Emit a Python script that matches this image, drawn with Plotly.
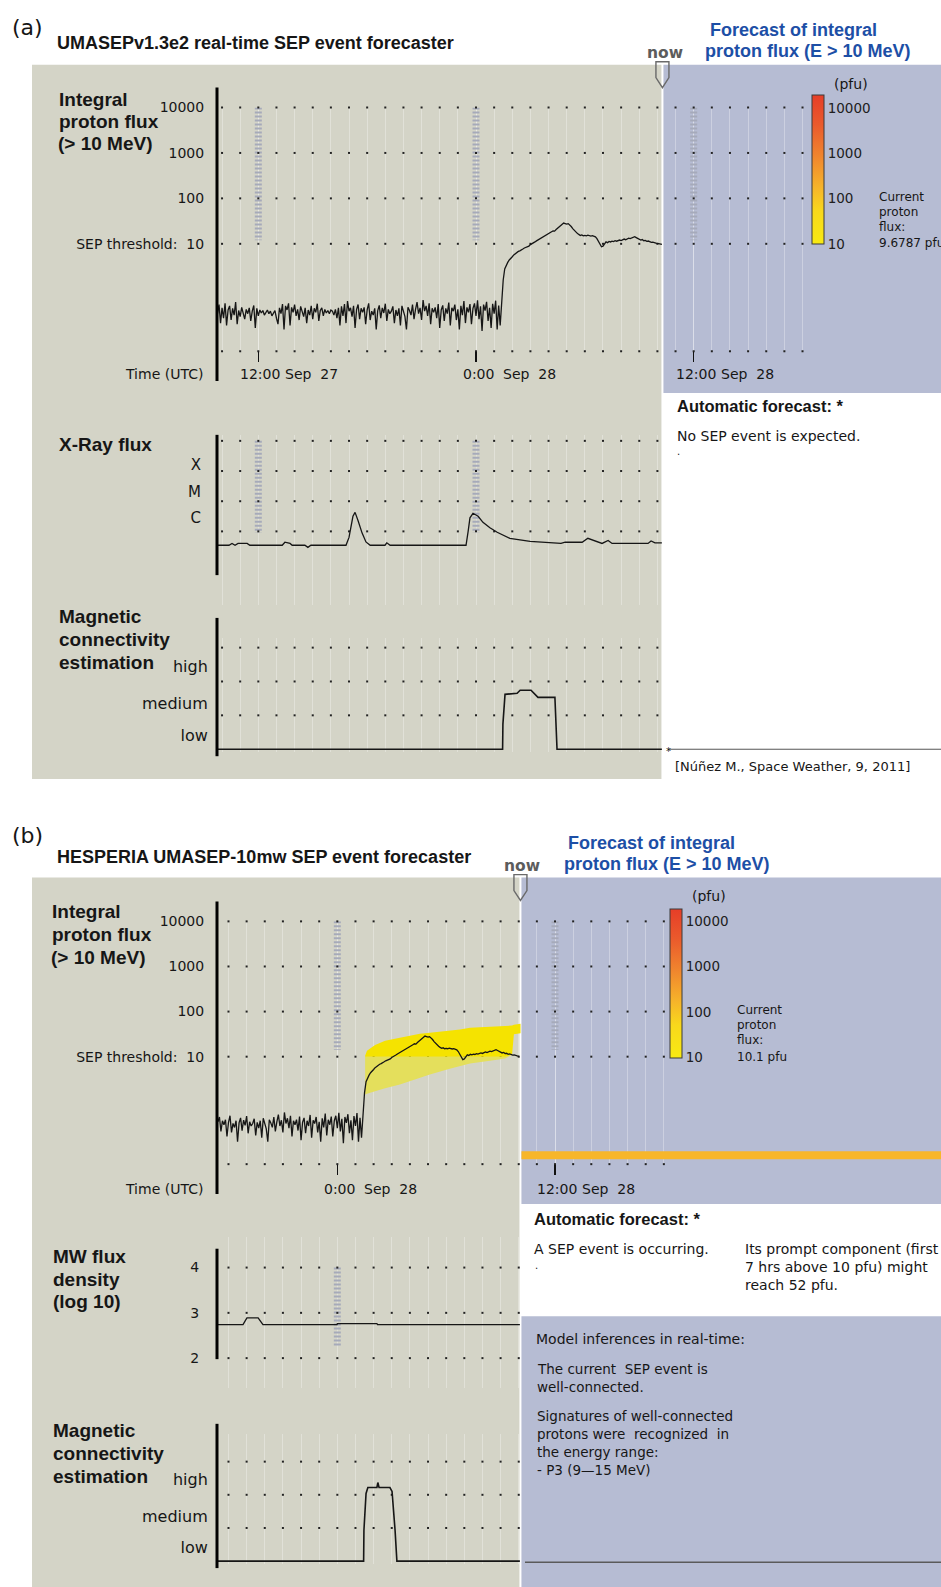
import numpy as np
import pandas as pd
import plotly.graph_objects as go

# ======================= DATA =======================
# GOES integral proton flux (>10 MeV), pfu, 5-minute samples from PROTON_START
PROTON_START = "2000-09-27 09:45"
PROTON_BACKGROUND = [
    0.29, 0.46, 0.18, 0.39, 0.23, 0.49, 0.16, 0.35, 0.43, 0.21, 0.38, 0.27,
    0.52, 0.17, 0.34, 0.25, 0.40, 0.31, 0.22, 0.36, 0.29, 0.39, 0.20, 0.33,
    0.44, 0.14, 0.38, 0.26, 0.35, 0.30, 0.34, 0.27, 0.31, 0.35, 0.29, 0.33,
    0.26, 0.31, 0.34, 0.23, 0.17, 0.39, 0.29, 0.47, 0.13, 0.43, 0.35, 0.49,
    0.16, 0.40, 0.31, 0.46, 0.26, 0.36, 0.21, 0.42, 0.33, 0.25, 0.39, 0.18,
    0.35, 0.27, 0.43, 0.22, 0.38, 0.31, 0.48, 0.20, 0.34, 0.39, 0.26, 0.36,
    0.30, 0.34, 0.29, 0.35, 0.33, 0.27, 0.36, 0.23, 0.39, 0.16, 0.42, 0.26,
    0.47, 0.18, 0.55, 0.33, 0.39, 0.25, 0.43, 0.14, 0.36, 0.46, 0.22, 0.38,
    0.31, 0.40, 0.17, 0.35, 0.49, 0.21, 0.33, 0.27, 0.38, 0.13, 0.34, 0.44,
    0.23, 0.39, 0.30, 0.48, 0.20, 0.36, 0.29, 0.33, 0.42, 0.18, 0.35, 0.26,
    0.38, 0.16, 0.43, 0.31, 0.25, 0.13, 0.40, 0.34, 0.27, 0.46, 0.22, 0.36,
    0.52, 0.29, 0.39, 0.21, 0.58, 0.33, 0.43, 0.26, 0.49, 0.17, 0.38, 0.31,
    0.40, 0.23, 0.47, 0.14, 0.35, 0.44, 0.20, 0.38, 0.29, 0.51, 0.16, 0.39,
    0.33, 0.46, 0.21, 0.36, 0.13, 0.43, 0.27, 0.55, 0.18, 0.40, 0.31, 0.47,
    0.17, 0.38, 0.49, 0.26, 0.57, 0.22, 0.42, 0.12, 0.46, 0.34, 0.53, 0.20,
    0.39, 0.14, 0.48, 0.29, 0.56, 0.13, 0.44, 0.16,
]
PROTON_EVENT = [
    0.55, 1.6, 2.8, 3.4, 3.9, 4.4, 4.7,
    5.2, 5.7, 6.1, 6.4, 6.8, 7.0, 7.5, 7.7, 8.1, 8.3, 8.6, 8.9,
    9.6, 10.2, 10.6, 11.0, 11.6, 12.1, 12.6, 13.3, 14.0, 14.8, 15.4, 16.1,
    16.5, 17.2, 18.4, 19.3, 19.0, 20.6, 22.0, 23.6, 25.4, 27.5, 28.6, 27.9,
    27.1, 27.8, 26.4, 24.0, 21.6, 19.6, 18.1, 17.0, 16.1, 15.3, 15.7, 15.0,
    15.3, 15.0, 15.5, 15.1, 14.8, 15.1, 14.6, 14.2, 13.0, 11.2, 9.6, 8.6,
    8.9, 9.8, 11.0, 10.6, 11.3, 11.0, 11.4, 11.2, 11.7, 11.4, 11.9, 12.1,
    11.8, 12.3, 12.7, 12.3, 12.9, 13.3, 13.0, 13.5, 13.9, 14.3, 13.7, 13.1,
    12.6, 12.1, 12.4, 11.7, 11.9, 11.3, 11.5, 11.1, 10.8, 10.9, 10.5, 10.4,
    10.2, 10.1, 9.9, 9.68,
]

# GOES X-ray flux, log10(W/m2)
XRAY_TIME = [
    "2000-09-27 09:43", "2000-09-27 10:23", "2000-09-27 10:33", "2000-09-27 10:43",
    "2000-09-27 10:53", "2000-09-27 11:23", "2000-09-27 11:32", "2000-09-27 13:19",
    "2000-09-27 13:28", "2000-09-27 13:45", "2000-09-27 13:52", "2000-09-27 14:34",
    "2000-09-27 14:44", "2000-09-27 14:54", "2000-09-27 16:50", "2000-09-27 17:00",
    "2000-09-27 17:13", "2000-09-27 17:20", "2000-09-27 17:30", "2000-09-27 17:43",
    "2000-09-27 17:56", "2000-09-27 18:10", "2000-09-27 18:59", "2000-09-27 19:05",
    "2000-09-27 19:16", "2000-09-27 23:27", "2000-09-27 23:34", "2000-09-27 23:40",
    "2000-09-27 23:50", "2000-09-28 00:07", "2000-09-28 00:23", "2000-09-28 00:46",
    "2000-09-28 01:10", "2000-09-28 01:52", "2000-09-28 02:59", "2000-09-28 03:48",
    "2000-09-28 04:31", "2000-09-28 04:41", "2000-09-28 04:55", "2000-09-28 05:51",
    "2000-09-28 06:10", "2000-09-28 06:34", "2000-09-28 06:57", "2000-09-28 07:17",
    "2000-09-28 07:30", "2000-09-28 09:29", "2000-09-28 09:39", "2000-09-28 09:52",
    "2000-09-28 10:15",
]
XRAY_LOGFLUX = [
    -6.46, -6.46, -6.40, -6.46, -6.40, -6.40, -6.46, -6.46,
    -6.36, -6.40, -6.46, -6.46, -6.53, -6.46, -6.46, -6.20,
    -5.50, -5.37, -5.65, -6.05, -6.35, -6.46, -6.46, -6.38,
    -6.46, -6.46, -6.00, -5.55, -5.40, -5.50, -5.70, -5.88,
    -6.03, -6.23, -6.33, -6.36, -6.38, -6.40, -6.36, -6.36,
    -6.23, -6.33, -6.40, -6.30, -6.40, -6.40, -6.32, -6.38,
    -6.38,
]

# Magnetic connectivity estimation (0 = none, 1 = low, 2 = medium, 3 = high)
MAG_A_TIME = ["2000-09-27 09:43", "2000-09-28 01:28", "2000-09-28 01:29", "2000-09-28 01:36",
              "2000-09-28 02:16", "2000-09-28 02:26", "2000-09-28 03:02", "2000-09-28 03:15",
              "2000-09-28 03:25", "2000-09-28 04:21", "2000-09-28 04:25", "2000-09-28 04:28",
              "2000-09-28 10:15"]
MAG_A_LEVEL = [0, 0, 0.74, 1.62, 1.65, 1.74, 1.74, 1.62, 1.53, 1.53, 0.74, 0, 0]

MAG_B_TIME = ["2000-09-27 17:22", "2000-09-28 01:27", "2000-09-28 01:28", "2000-09-28 01:35",
              "2000-09-28 01:41", "2000-09-28 02:11", "2000-09-28 02:14", "2000-09-28 02:18",
              "2000-09-28 02:54", "2000-09-28 03:01", "2000-09-28 03:11", "2000-09-28 03:17",
              "2000-09-28 10:04"]
MAG_B_LEVEL = [0, 0, 0.93, 2.04, 2.22, 2.22, 2.37, 2.22, 2.22, 2.10, 0.93, 0, 0]

# Microwave flux density, log10
MW_TIME = ["2000-09-27 17:22", "2000-09-27 18:48", "2000-09-27 19:01", "2000-09-27 19:38",
           "2000-09-27 19:54", "2000-09-27 23:59", "2000-09-28 00:00", "2000-09-28 02:11",
           "2000-09-28 02:13", "2000-09-28 10:04"]
MW_LOG = [2.74, 2.74, 2.89, 2.89, 2.74, 2.74, 2.76, 2.76, 2.74, 2.74]

# Forecast band of the prompt component (pfu)
BAND_TIME = ["2000-09-28 01:32", "2000-09-28 01:35", "2000-09-28 01:38", "2000-09-28 02:05",
             "2000-09-28 02:38", "2000-09-28 03:27", "2000-09-28 04:33", "2000-09-28 05:06",
             "2000-09-28 06:12", "2000-09-28 06:46", "2000-09-28 07:19", "2000-09-28 08:25",
             "2000-09-28 09:15", "2000-09-28 09:38", "2000-09-28 09:44", "2000-09-28 10:06"]
BAND_UPPER = [10.5, 12.3, 13.5, 18.2, 22.4, 26.3, 32.4, 33.9, 37.2, 39.8, 43.7, 45.7,
              47.9, 49.0, 51.3, 53.7]
BAND_LOWER = [1.45, 1.48, 1.51, 1.70, 2.0, 2.4, 3.4, 4.0, 5.4, 6.3, 7.1, 8.1,
              9.1, 11.0, 31.6, 33.1]

TIME_TICKS = ["2000-09-27 12:00", "2000-09-28 00:00", "2000-09-28 12:00"]
TIME_TICK_CLOCK = ["12:00", "0:00", "12:00"]
TIME_TICK_DATE = ["Sep  27", "Sep  28", "Sep  28"]

PROTON_TICKS = [1e4, 1e3, 1e2, 1e1]
PROTON_TICKTEXT = ["10000", "1000", "100", "SEP threshold:  10"]
XRAY_ROWS = [-3, -4, -5, -6]
XRAY_CLASS_POS = [-3.8, -4.7, -5.55]
XRAY_CLASS = ["X", "M", "C"]
MAG_ROWS = [1, 2, 3]
MAG_LABEL_POS = [0.4, 1.35, 2.45]
MAG_LABELS = ["low", "medium", "high"]
MW_TICKS = [4, 3, 2]
CBAR_TICKS = [1, 2, 3, 4]
CBAR_TEXT = ["10", "100", "1000", "10000"]

T0_A, NOW_A = pd.Timestamp("2000-09-27 09:43:20"), pd.Timestamp("2000-09-28 10:15")
T0_B, NOW_B = pd.Timestamp("2000-09-27 17:22:00"), pd.Timestamp("2000-09-28 10:04")

# ======================= LAYOUT GEOMETRY =======================
W, H = 941, 1587
PXH = 18.14   # pixels per hour
AXL = 217     # pixel position of time-axis origin


def xp(v):
    return v / W


def yp(v):
    return 1 - v / H


def t2px(t, t0):
    return AXL + (pd.Timestamp(t) - t0).total_seconds() / 3600 * PXH


def px2t(px, t0):
    return t0 + pd.Timedelta(hours=(px - AXL) / PXH)


NOWPX_A = t2px(NOW_A, T0_A)
NOWPX_B = t2px(NOW_B, T0_B)
END_A = px2t(806, T0_A)
END_B = px2t(666, T0_B)

GRAY = "#d4d4c7"
BLUE = "#b6bcd3"
GRID = "rgba(255,255,255,0.3)"
DOT = "#222222"
HATCH = "#a6aaba"
INK = "#161616"
TITLE_BLUE = "#1d4fa6"
SANS = "DejaVu Sans"
BOLD = "Liberation Sans"

proton_time = pd.date_range(PROTON_START, periods=len(PROTON_BACKGROUND) + len(PROTON_EVENT), freq="5min")
proton_flux = np.array(PROTON_BACKGROUND + PROTON_EVENT)

fig = go.Figure()

# ---------- axes ----------
def xaxis_cfg(idx, x0, x1, r0, r1, ticks):
    d = dict(domain=[xp(x0), xp(x1)], range=[r0, r1], type="date",
             anchor="y" if idx == 1 else f"y{idx}",
             showgrid=True, gridcolor=GRID, gridwidth=1, zeroline=False, showline=False,
             showticklabels=False, fixedrange=True,
             minor=dict(dtick=3600000, tick0="2000-01-01", showgrid=True, gridcolor=GRID,
                        gridwidth=1, ticks=""))
    if ticks:
        d.update(tickmode="array", tickvals=ticks, ticks="outside", ticklen=10,
                 tickwidth=1.3, tickcolor="#111")
    else:
        d.update(tickmode="array", tickvals=[], ticks="")
    return d


def yaxis_cfg(idx, yb, yt, r0, r1, typ="linear", tv=(), tt=(), tlen=9, fs=14):
    return dict(domain=[yp(yb), yp(yt)], range=[r0, r1], type=typ,
                anchor="x" if idx == 1 else f"x{idx}",
                showgrid=False, zeroline=False, showline=False, fixedrange=True,
                tickmode="array", tickvals=list(tv), ticktext=list(tt), ticks="outside",
                ticklen=tlen, tickcolor="rgba(0,0,0,0)",
                tickfont=dict(family=SANS, size=fs, color=INK))


def ticks_in(t0, t1):
    return [t for t in TIME_TICKS if t0 <= pd.Timestamp(t) <= t1]


PR_A = [-1.365, 4.0]
PR_B = [-1.383, 4.0]
axes = {
    1: (xaxis_cfg(1, AXL, 806, T0_A, END_A, ticks_in(T0_A, END_A)),
        yaxis_cfg(1, 345, 100, PR_A[0], PR_A[1], "log", PROTON_TICKS, PROTON_TICKTEXT, 9, 14)),
    2: (xaxis_cfg(2, AXL, NOWPX_A, T0_A, NOW_A, None),
        yaxis_cfg(2, 600, 429, -8.44, -2.80, "linear", XRAY_CLASS_POS, XRAY_CLASS, 12, 15)),
    3: (xaxis_cfg(3, AXL, NOWPX_A, T0_A, NOW_A, None),
        yaxis_cfg(3, 748, 633, -0.09, 3.29, "linear", MAG_LABEL_POS, MAG_LABELS, 5, 16)),
    4: (xaxis_cfg(4, AXL, 666, T0_B, END_B, ticks_in(T0_B, END_B)),
        yaxis_cfg(4, 1162, 918, PR_B[0], PR_B[1], "log", PROTON_TICKS, PROTON_TICKTEXT, 9, 14)),
    5: (xaxis_cfg(5, AXL, NOWPX_B, T0_B, NOW_B, None),
        yaxis_cfg(5, 1387, 1235, 1.34, 4.68, "linear", MW_TICKS, [str(v) for v in MW_TICKS], 14, 14)),
    6: (xaxis_cfg(6, AXL, NOWPX_B, T0_B, NOW_B, None),
        yaxis_cfg(6, 1564, 1433, -0.09, 3.84, "linear", MAG_LABEL_POS, MAG_LABELS, 5, 16)),
}
layout_axes = {}
for i, (xa, ya) in axes.items():
    layout_axes["xaxis" if i == 1 else f"xaxis{i}"] = xa
    layout_axes["yaxis" if i == 1 else f"yaxis{i}"] = ya


def ref(i):
    return ("x", "y") if i == 1 else (f"x{i}", f"y{i}")


# ---------- decorative grid dots and day markers ----------
def dot_rows(i, t0, t1, rows):
    hours = pd.date_range(pd.Timestamp(t0).ceil("h"), pd.Timestamp(t1), freq="h")
    xs = [h for r in rows for h in hours]
    ys = [r for r in rows for h in hours]
    xa, ya = ref(i)
    fig.add_trace(go.Scatter(x=xs, y=ys, xaxis=xa, yaxis=ya, mode="markers",
                             marker=dict(symbol="square", size=2, color=DOT),
                             cliponaxis=False, hoverinfo="skip", showlegend=False))


def hatch(i, t0, t1, ytop, ybot):
    xa, ya = ref(i)
    for t in ticks_in(t0, t1):
        fig.add_trace(go.Scatter(x=[t, t], y=[ytop, ybot], xaxis=xa, yaxis=ya, mode="lines",
                                 line=dict(color=HATCH, width=7, dash="2px,2px"),
                                 hoverinfo="skip", showlegend=False))


hatch(1, T0_A, END_A, 1e4, 12)
hatch(2, T0_A, NOW_A, XRAY_ROWS[0], XRAY_ROWS[-1] - 0.05)
hatch(4, T0_B, END_B, 1e4, 14)
hatch(5, T0_B, NOW_B, MW_TICKS[0], 2.25)

dot_rows(1, T0_A, END_A, PROTON_TICKS + [10 ** PR_A[0]])
dot_rows(2, T0_A, NOW_A, XRAY_ROWS)
dot_rows(3, T0_A, NOW_A, MAG_ROWS)
dot_rows(4, T0_B, END_B, PROTON_TICKS + [10 ** PR_B[0]])
dot_rows(5, T0_B, NOW_B, MW_TICKS)
dot_rows(6, T0_B, NOW_B, MAG_ROWS)

# ---------- forecast band (panel b) ----------
band_up = np.array(BAND_UPPER)
band_lo = np.array(BAND_LOWER)
band_mid = np.minimum(np.maximum(10.0, band_lo), band_up)
fig.add_trace(go.Scatter(x=BAND_TIME, y=band_lo, xaxis="x4", yaxis="y4", mode="lines",
                         line=dict(width=0), hoverinfo="skip", showlegend=False))
fig.add_trace(go.Scatter(x=BAND_TIME, y=band_mid, xaxis="x4", yaxis="y4", mode="lines",
                         line=dict(width=0), fill="tonexty", fillcolor="#e4df5c",
                         hoverinfo="skip", showlegend=False))
fig.add_trace(go.Scatter(x=BAND_TIME, y=band_up, xaxis="x4", yaxis="y4", mode="lines",
                         line=dict(width=0), fill="tonexty", fillcolor="#f5e300",
                         hoverinfo="skip", showlegend=False))

# ---------- data curves ----------
def curve(i, x, y, w=1.3):
    xa, ya = ref(i)
    fig.add_trace(go.Scatter(x=x, y=y, xaxis=xa, yaxis=ya, mode="lines",
                             line=dict(color=INK, width=w), hoverinfo="skip", showlegend=False))


mask_a = (proton_time >= T0_A) & (proton_time <= NOW_A)
mask_b = (proton_time >= T0_B) & (proton_time <= NOW_B)
curve(1, proton_time[mask_a], proton_flux[mask_a])
curve(2, XRAY_TIME, XRAY_LOGFLUX)
curve(3, MAG_A_TIME, MAG_A_LEVEL, 1.6)
curve(4, proton_time[mask_b], proton_flux[mask_b])
curve(5, MW_TIME, MW_LOG)
curve(6, MAG_B_TIME, MAG_B_LEVEL, 1.6)

# ---------- colour bars (forecast scale) ----------
CSCALE = [[0.0, "#f8ea12"], [0.22, "#f8d81c"], [0.38, "#f6b42a"], [0.58, "#f0872e"],
          [0.8, "#ea5a2c"], [1.0, "#e63e28"]]


def cbar(ax_i, t, cname, xleft, ybottom, cmax):
    xa, ya = ref(ax_i)
    fig.add_trace(go.Scatter(x=[t], y=[10], xaxis=xa, yaxis=ya, mode="markers",
                             marker=dict(color=[2], coloraxis=cname, size=1, opacity=0),
                             hoverinfo="skip", showlegend=False))
    return dict(cmin=1, cmax=cmax, colorscale=CSCALE,
                colorbar=dict(x=xp(xleft), xanchor="left", y=yp(ybottom), yanchor="bottom",
                              len=149, lenmode="pixels", thickness=12, thicknessmode="pixels",
                              xpad=0, ypad=0, outlinewidth=1, outlinecolor="#3a3a3a",
                              borderwidth=0, tickmode="array", tickvals=CBAR_TICKS,
                              ticktext=CBAR_TEXT, ticks="",
                              tickfont=dict(family=SANS, size=13.5, color="#202020")))


ca1 = cbar(1, NOW_A, "coloraxis", 812, 237, 4.29)
ca2 = cbar(4, NOW_B, "coloraxis2", 670, 1055, 4.27)

# ---------- shapes ----------
shapes = []


def rect(x0, y0, x1, y1, color, layer="below"):
    shapes.append(dict(type="rect", xref="paper", yref="paper", x0=xp(x0), x1=xp(x1),
                       y0=yp(y0), y1=yp(y1), fillcolor=color, line=dict(width=0), layer=layer))


def hline(x0, x1, y, color, w):
    shapes.append(dict(type="line", xref="paper", yref="paper", x0=xp(x0), x1=xp(x1),
                       y0=yp(y), y1=yp(y), line=dict(color=color, width=w), layer="above"))


def vline(x, y0, y1, color="#000", w=3):
    shapes.append(dict(type="line", xref="paper", yref="paper", x0=xp(x), x1=xp(x),
                       y0=yp(y0), y1=yp(y1), line=dict(color=color, width=w), layer="above"))


def now_marker(nx, ytop):
    pts = [(nx - 6.5, ytop - 3), (nx + 6.5, ytop - 3), (nx + 6.5, ytop + 13),
           (nx, ytop + 23), (nx - 6.5, ytop + 13)]
    path = "M " + " L ".join(f"{xp(a):.5f},{yp(b):.5f}" for a, b in pts) + " Z"
    shapes.append(dict(type="path", xref="paper", yref="paper", path=path,
                       line=dict(color="#6a6a6a", width=1.4), fillcolor="rgba(0,0,0,0)",
                       layer="above"))


rect(32, 57, NOWPX_A - 0.5, 775, GRAY)
rect(NOWPX_A + 1.5, 57, W, 387, BLUE)
rect(32, 874, NOWPX_B - 0.5, H, GRAY)
rect(NOWPX_B + 1.5, 874, W, 1202, BLUE)
rect(NOWPX_B + 1.5, 1315, W, H, BLUE)
rect(NOWPX_B + 1.5, 1149, W, 1157, "#f7b62a", layer="above")

for (y0, y1) in [(80, 375), (429, 570), (613, 752), (898, 1192), (1247, 1358), (1423, 1568)]:
    vline(AXL, y0, y1)

now_marker(NOWPX_A + 0.5, 57)
now_marker(NOWPX_B + 0.5, 874)
hline(668, W, 745, "#555", 1)
hline(525, W, 1562, "#5a5a5a", 1.5)

# ---------- annotations ----------
ann = []


def txt(x, y, s, size=14, bold=False, color=INK, anchor="left", family=None):
    fam = family or (BOLD if bold else SANS)
    ann.append(dict(x=xp(x), y=yp(y), xref="paper", yref="paper", text=f"<b>{s}</b>" if bold else s,
                    showarrow=False, xanchor=anchor, yanchor="middle",
                    font=dict(family=fam, size=size, color=color)))


def time_labels(i, t0, t1, ypix):
    xa, _ = ref(i)
    for t, clock, date in zip(TIME_TICKS, TIME_TICK_CLOCK, TIME_TICK_DATE):
        if t0 <= pd.Timestamp(t) <= t1:
            for s, anchor, shift in [(clock, "center", 2), (date, "left", 25)]:
                ann.append(dict(x=t, y=yp(ypix), xref=xa, yref="paper", text=s, showarrow=False,
                                xanchor=anchor, yanchor="middle", xshift=shift,
                                font=dict(family=SANS, size=14, color=INK)))


# panel (a)
txt(10, 20, "(a)", 22)
txt(55, 35, "UMASEPv1.3e2 real-time SEP event forecaster", 18, True)
txt(57, 92, "Integral", 19, True)
txt(57, 114, "proton flux", 19, True)
txt(56, 136, "(&gt; 10 MeV)", 19, True)
txt(57, 439, "X-Ray flux", 19, True)
txt(57, 612, "Magnetic", 19, True)
txt(57, 635, "connectivity", 19, True)
txt(57, 658, "estimation", 19, True)
txt(205, 368, "Time (UTC)", 14, anchor="right")
time_labels(1, T0_A, END_A, 368)
txt(708, 22, "Forecast of integral", 18, True, TITLE_BLUE)
txt(703, 43, "proton flux (E &gt; 10 MeV)", 18, True, TITLE_BLUE)
txt(NOWPX_A + 3, 45, "<b>now</b>", 15.5, False, "#5c5c5c", "center", SANS)
txt(832, 76, "(pfu)", 14)
for k, s in enumerate(["Current", "proton", "flux:", "9.6787 pfu"]):
    txt(877, 190 + 15 * k + (1 if k == 3 else 0), s, 12)
txt(675, 400, "Automatic forecast: *", 16.5, True)
txt(675, 430, "No SEP event is expected.", 14)
txt(675, 446, ".", 10)
txt(664, 747, "*", 10)
txt(673, 762, "[Núñez M., Space Weather, 9, 2011]", 13)

# panel (b)
txt(10, 832, "(b)", 22)
txt(55, 853, "HESPERIA UMASEP-10mw SEP event forecaster", 18, True)
txt(50, 908, "Integral", 19, True)
txt(50, 931, "proton flux", 19, True)
txt(49, 954, "(&gt; 10 MeV)", 19, True)
txt(51, 1255, "MW flux", 19, True)
txt(51, 1278, "density", 19, True)
txt(51, 1300, "(log 10)", 19, True)
txt(51, 1430, "Magnetic", 19, True)
txt(51, 1453, "connectivity", 19, True)
txt(51, 1476, "estimation", 19, True)
txt(205, 1187, "Time (UTC)", 14, anchor="right")
time_labels(4, T0_B, END_B, 1187)
txt(566, 839, "Forecast of integral", 18, True, TITLE_BLUE)
txt(562, 860, "proton flux (E &gt; 10 MeV)", 18, True, TITLE_BLUE)
txt(NOWPX_B + 2, 862, "<b>now</b>", 15.5, False, "#5c5c5c", "center", SANS)
txt(690, 893, "(pfu)", 14)
for k, s in enumerate(["Current", "proton", "flux:", "10.1 pfu"]):
    txt(735, 1007 + 15 * k + (2 if k == 3 else 0), s, 12)
txt(532, 1217, "Automatic forecast: *", 16.5, True)
txt(532, 1247, "A SEP event is occurring.", 14)
txt(533, 1264, ".", 10)
txt(743, 1247, "Its prompt component (first", 14)
txt(743, 1265, "7 hrs above 10 pfu) might", 14)
txt(743, 1283, "reach 52 pfu.", 14)
txt(534, 1338, "Model inferences in real-time:", 14)
txt(535, 1368, "The current  SEP event is", 13.5)
txt(535, 1386, "well-connected.", 13.5)
txt(535, 1415, "Signatures of well-connected", 13.5)
txt(535, 1433, "protons were  recognized  in", 13.5)
txt(535, 1451, "the energy range:", 13.5)
txt(535, 1469, "- P3 (9—15 MeV)", 13.5)

fig.update_layout(
    width=W, height=H, autosize=False,
    margin=dict(l=0, r=0, t=0, b=0, pad=0),
    paper_bgcolor="white", plot_bgcolor="rgba(0,0,0,0)",
    showlegend=False, hovermode=False,
    shapes=shapes, annotations=ann,
    coloraxis=ca1, coloraxis2=ca2,
    **layout_axes,
)

fig.write_html(
    "out.html",
    config={"displayModeBar": False, "staticPlot": True},
    post_script="document.body.style.margin='0';document.body.style.padding='0';"
                "document.body.style.overflow='hidden';"
                "document.documentElement.style.overflow='hidden';",
)
